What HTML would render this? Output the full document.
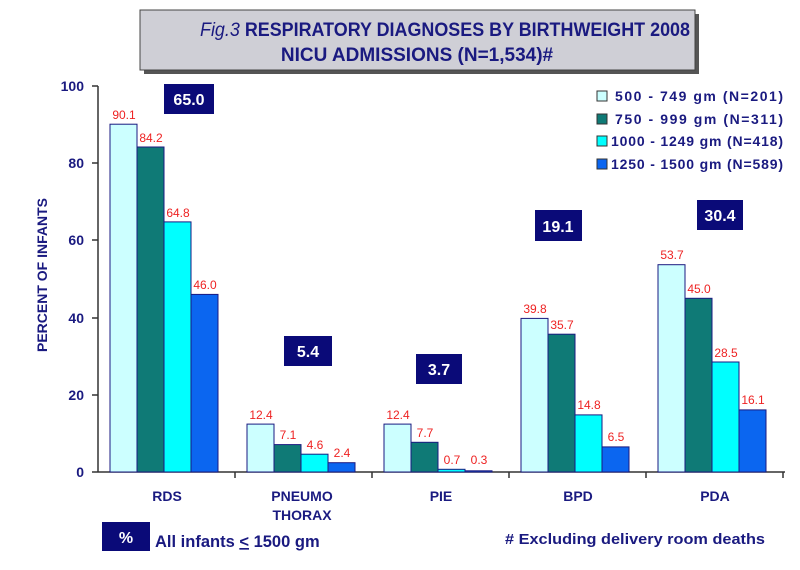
<!DOCTYPE html>
<html><head><style>
body{margin:0;background:#fff;}
svg{display:block;font-family:"Liberation Sans",Arial,sans-serif;}
</style></head><body>
<svg width="800" height="570" viewBox="0 0 800 570">
<rect x="144" y="14" width="555" height="60" fill="#555"/>
<rect x="140" y="10" width="555" height="60" fill="#cfcfd6" stroke="#444" stroke-width="1"/>
<text x="445" y="36" text-anchor="middle" font-size="19" font-weight="bold" fill="#1a1a80" textLength="490" lengthAdjust="spacingAndGlyphs"><tspan font-style="italic" font-weight="normal">Fig.3</tspan>  RESPIRATORY DIAGNOSES BY BIRTHWEIGHT 2008</text>
<text x="417" y="61" text-anchor="middle" font-size="19" font-weight="bold" fill="#1a1a80">NICU ADMISSIONS (N=1,534)#</text>

<text transform="translate(47,275) rotate(-90)" text-anchor="middle" font-size="14" font-weight="bold" fill="#1a1a80">PERCENT OF INFANTS</text>
<g font-size="14" font-weight="bold" fill="#1a1a80" text-anchor="end">
<text x="84" y="477">0</text><text x="84" y="400">20</text><text x="84" y="323">40</text><text x="84" y="245">60</text><text x="84" y="168">80</text><text x="84" y="91">100</text>
</g>
<g stroke="#333" stroke-width="1.5">
<line x1="98" y1="86" x2="98" y2="472"/>
<line x1="92" y1="472" x2="785" y2="472"/>
<line x1="92" y1="86" x2="98" y2="86"/><line x1="92" y1="163" x2="98" y2="163"/><line x1="92" y1="240" x2="98" y2="240"/><line x1="92" y1="318" x2="98" y2="318"/><line x1="92" y1="395" x2="98" y2="395"/>
<line x1="235" y1="472" x2="235" y2="478"/><line x1="372" y1="472" x2="372" y2="478"/><line x1="509" y1="472" x2="509" y2="478"/><line x1="646" y1="472" x2="646" y2="478"/><line x1="783" y1="472" x2="783" y2="478"/>
</g>
<g stroke="#1a1a80" stroke-width="1">
<rect x="110" y="124.2" width="27" height="347.8" fill="#ccffff"/>
<rect x="137" y="147" width="27" height="325" fill="#0f7a76"/>
<rect x="164" y="221.9" width="27" height="250.1" fill="#00ffff"/>
<rect x="191" y="294.4" width="27" height="177.6" fill="#0b66f0"/>
<rect x="247" y="424.1" width="27" height="47.9" fill="#ccffff"/>
<rect x="274" y="444.6" width="27" height="27.4" fill="#0f7a76"/>
<rect x="301" y="454.2" width="27" height="17.8" fill="#00ffff"/>
<rect x="328" y="462.7" width="27" height="9.3" fill="#0b66f0"/>
<rect x="384" y="424.1" width="27" height="47.9" fill="#ccffff"/>
<rect x="411" y="442.3" width="27" height="29.7" fill="#0f7a76"/>
<rect x="438" y="469.3" width="27" height="2.7" fill="#00ffff"/>
<rect x="465" y="470.8" width="27" height="1.2" fill="#0b66f0"/>
<rect x="521" y="318.4" width="27" height="153.6" fill="#ccffff"/>
<rect x="548" y="334.2" width="27" height="137.8" fill="#0f7a76"/>
<rect x="575" y="414.9" width="27" height="57.1" fill="#00ffff"/>
<rect x="602" y="446.9" width="27" height="25.1" fill="#0b66f0"/>
<rect x="658" y="264.7" width="27" height="207.3" fill="#ccffff"/>
<rect x="685" y="298.3" width="27" height="173.7" fill="#0f7a76"/>
<rect x="712" y="362" width="27" height="110" fill="#00ffff"/>
<rect x="739" y="409.9" width="27" height="62.1" fill="#0b66f0"/>
</g>
<g font-size="12" fill="#ee2222" text-anchor="middle">
<text x="124" y="119">90.1</text><text x="151" y="142">84.2</text><text x="178" y="217">64.8</text><text x="205" y="289">46.0</text>
<text x="261" y="419">12.4</text><text x="288" y="439">7.1</text><text x="315" y="449">4.6</text><text x="342" y="457">2.4</text>
<text x="398" y="419">12.4</text><text x="425" y="437">7.7</text><text x="452" y="464">0.7</text><text x="479" y="464">0.3</text>
<text x="535" y="313">39.8</text><text x="562" y="329">35.7</text><text x="589" y="409">14.8</text><text x="616" y="441">6.5</text>
<text x="672" y="259">53.7</text><text x="699" y="293">45.0</text><text x="726" y="357">28.5</text><text x="753" y="404">16.1</text>
</g>
<g fill="#0a0a78">
<rect x="164" y="84" width="50" height="30"/>
<rect x="284" y="336" width="48" height="30"/>
<rect x="416" y="354" width="46" height="30"/>
<rect x="535" y="210" width="47" height="31"/>
<rect x="697" y="200" width="46" height="30"/>
<rect x="102" y="522" width="48" height="29"/>
</g>
<g font-size="16" font-weight="bold" fill="#fff" text-anchor="middle">
<text x="189" y="105">65.0</text><text x="308" y="357">5.4</text><text x="439" y="375">3.7</text><text x="558" y="232">19.1</text><text x="720" y="221">30.4</text><text x="126" y="543">%</text>
</g>
<g font-size="14" font-weight="bold" fill="#1a1a80" text-anchor="middle">
<text x="167" y="501">RDS</text>
<text x="302" y="501">PNEUMO</text><text x="302" y="520">THORAX</text>
<text x="441" y="501">PIE</text><text x="578" y="501">BPD</text><text x="715" y="501">PDA</text>
</g>
<text x="155" y="547" font-size="16.5" font-weight="bold" fill="#1a1a80">All infants <tspan text-decoration="underline">&lt;</tspan> 1500 gm</text>
<text x="505" y="544" font-size="14.5" font-weight="bold" fill="#1a1a80" textLength="260" lengthAdjust="spacingAndGlyphs"># Excluding delivery room deaths</text>
<g stroke="#333" stroke-width="1">
<rect x="597" y="91" width="10" height="10" fill="#ccffff"/>
<rect x="597" y="114" width="10" height="10" fill="#0f7a76"/>
<rect x="597" y="136" width="10" height="10" fill="#00ffff"/>
<rect x="597" y="159" width="10" height="10" fill="#0b66f0"/>
</g>
<g font-size="14" font-weight="bold" fill="#1a1a80" xml:space="preserve">
<text x="615" y="101" textLength="168" lengthAdjust="spacing">500  -  749 gm  (N=201)</text>
<text x="615" y="124" textLength="168" lengthAdjust="spacing">750  -  999 gm  (N=311)</text>
<text x="611" y="146" textLength="172" lengthAdjust="spacing">1000 - 1249 gm (N=418)</text>
<text x="611" y="169" textLength="172" lengthAdjust="spacing">1250 - 1500 gm (N=589)</text>
</g>
</svg>
</body></html>
